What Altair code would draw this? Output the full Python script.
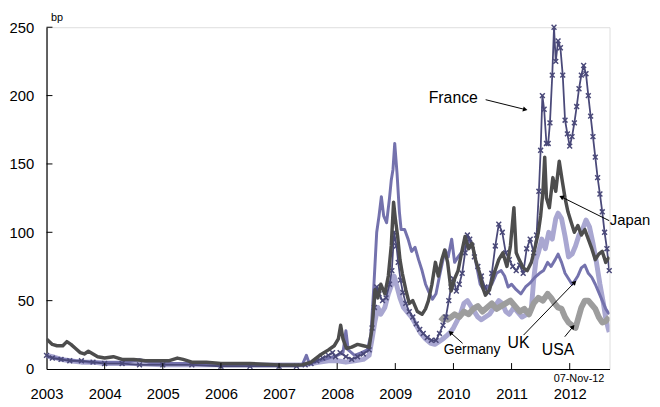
import math
import altair as alt
import pandas as pd

FONT = "Liberation Sans"

# ---------------- data (decimal year on chart axis, bp) ----------------
jp_t = [2003.00, 2003.05, 2003.10, 2003.18, 2003.28, 2003.35, 2003.42, 2003.50, 2003.58, 2003.65,
        2003.72, 2003.80, 2003.88, 2004.00, 2004.15, 2004.30, 2004.50, 2004.70, 2004.90, 2005.10,
        2005.25, 2005.35, 2005.50, 2005.75, 2006.00, 2006.50, 2007.00, 2007.40, 2007.55, 2007.70,
        2007.85, 2007.95, 2008.02, 2008.06, 2008.10, 2008.16, 2008.25, 2008.35, 2008.45, 2008.55,
        2008.60, 2008.65, 2008.70, 2008.75, 2008.82, 2008.88, 2008.93, 2008.97, 2009.00, 2009.04,
        2009.08, 2009.12, 2009.18, 2009.24, 2009.30, 2009.38, 2009.46, 2009.52, 2009.57, 2009.63,
        2009.69, 2009.74, 2009.80, 2009.85, 2009.90, 2009.96, 2010.02, 2010.08, 2010.14, 2010.20,
        2010.26, 2010.32, 2010.38, 2010.45, 2010.50, 2010.55, 2010.62, 2010.70, 2010.78, 2010.85,
        2010.92, 2010.98, 2011.04, 2011.08, 2011.13, 2011.20, 2011.27, 2011.34, 2011.40, 2011.46,
        2011.50, 2011.54, 2011.57, 2011.60, 2011.65, 2011.71, 2011.76, 2011.82, 2011.87, 2011.92,
        2011.97, 2012.02, 2012.08, 2012.14, 2012.20, 2012.26, 2012.32, 2012.38, 2012.44, 2012.50,
        2012.56, 2012.62, 2012.68]
jp_v = [22, 20, 18, 17, 17, 20, 18, 15, 12, 11,
        13, 11, 9, 8, 9, 7, 7, 6, 6, 6,
        8, 7, 5, 5, 4, 4, 3, 3, 5, 10,
        14, 17, 22, 32, 22, 15, 16, 18, 17, 16,
        30, 58, 52, 62, 55, 68, 90, 122, 110, 97,
        80, 70, 58, 48, 50, 42, 40, 44, 50, 62,
        78, 68, 80, 87, 78, 57, 66, 72, 85, 97,
        88, 92, 80, 70, 60, 54, 58, 70, 80, 85,
        75, 90, 118, 85, 80, 74, 72, 78, 88, 100,
        112, 130, 155, 125, 118, 140, 130, 152, 138, 125,
        115, 108, 100, 105, 98, 102, 95, 88, 80, 84,
        86, 78, 82]

fr_t = [2003.00, 2003.10, 2003.25, 2003.40, 2003.60, 2003.80, 2004.00, 2004.30, 2004.60, 2005.00,
        2005.50, 2006.00, 2006.50, 2007.00, 2007.30, 2007.45, 2007.55, 2007.65, 2007.75, 2007.85,
        2007.92, 2007.97, 2008.05, 2008.15, 2008.25, 2008.35, 2008.45, 2008.55, 2008.60, 2008.64,
        2008.68, 2008.72, 2008.78, 2008.84, 2008.90, 2008.94, 2008.98, 2009.02, 2009.05, 2009.09,
        2009.13, 2009.18, 2009.24, 2009.30, 2009.36, 2009.42, 2009.48, 2009.55, 2009.62, 2009.70,
        2009.76, 2009.82, 2009.87, 2009.92, 2009.96, 2010.00, 2010.05, 2010.10, 2010.15, 2010.20,
        2010.24, 2010.28, 2010.32, 2010.36, 2010.42, 2010.48, 2010.54, 2010.60, 2010.66, 2010.72,
        2010.78, 2010.84, 2010.90, 2010.96, 2011.02, 2011.08, 2011.14, 2011.20, 2011.26, 2011.32,
        2011.38, 2011.43, 2011.47, 2011.50, 2011.53, 2011.56, 2011.60, 2011.63, 2011.66, 2011.70,
        2011.73, 2011.76, 2011.80, 2011.84, 2011.88, 2011.92, 2011.96, 2012.00, 2012.04, 2012.08,
        2012.12, 2012.16, 2012.20, 2012.24, 2012.28, 2012.32, 2012.36, 2012.40, 2012.44, 2012.48,
        2012.52, 2012.56, 2012.60, 2012.64, 2012.68]
fr_v = [10, 8, 7, 6, 6, 5, 4, 4, 3, 3,
        3, 2, 2, 2, 2, 3, 4, 6, 8, 10,
        12, 9, 12, 9, 7, 9, 11, 14, 30, 45,
        60, 55, 50, 52, 62, 72, 100, 90, 78, 65,
        56, 48, 42, 38, 33, 29, 26, 23, 21, 21,
        26, 32, 38, 50, 60, 66, 57, 62, 70, 85,
        98, 95, 90, 82, 75, 68, 60, 56, 70, 90,
        106, 100, 85, 80, 75, 72, 76, 70, 88, 95,
        85, 98, 130, 160, 200, 190, 165, 165, 180, 215,
        250, 225, 240, 235, 215, 182, 172, 163, 170, 180,
        192, 205, 215, 222, 216, 200, 185, 170, 155, 140,
        128, 115, 100, 88, 72]

de_t = [2003.00, 2003.10, 2003.25, 2003.40, 2003.60, 2003.80, 2004.00, 2004.50, 2005.00, 2005.50,
        2006.00, 2006.50, 2007.00, 2007.40, 2007.55, 2007.70, 2007.85, 2008.00, 2008.15, 2008.30,
        2008.45, 2008.55, 2008.60, 2008.65, 2008.70, 2008.75, 2008.82, 2008.88, 2008.94, 2008.98,
        2009.03, 2009.08, 2009.14, 2009.20, 2009.28, 2009.36, 2009.44, 2009.52, 2009.60, 2009.68,
        2009.75, 2009.82, 2009.90, 2009.95, 2010.00, 2010.06, 2010.12, 2010.18, 2010.24, 2010.30,
        2010.36, 2010.42, 2010.48, 2010.55, 2010.62, 2010.70, 2010.78, 2010.84, 2010.90, 2010.96,
        2011.04, 2011.10, 2011.18, 2011.26, 2011.34, 2011.38, 2011.42, 2011.46, 2011.52, 2011.58,
        2011.64, 2011.70, 2011.76, 2011.80, 2011.86, 2011.92, 2011.98, 2012.04, 2012.10, 2012.16,
        2012.22, 2012.28, 2012.34, 2012.40, 2012.46, 2012.52, 2012.58, 2012.62, 2012.66, 2012.68]
de_v = [10, 9, 7, 6, 5, 5, 4, 4, 3, 3,
        3, 3, 3, 3, 4, 5, 6, 6, 5, 6,
        7, 10, 22, 35, 45, 40, 45, 55, 62, 68,
        60, 52, 45, 42, 38, 32, 26, 22, 19, 18,
        20, 22, 25, 27, 30, 35, 40, 48, 50, 46,
        42, 38, 36, 38, 40, 45, 50, 48, 42, 40,
        45, 42, 38, 40, 44, 65, 80, 85, 95, 88,
        100, 95, 110, 114, 110, 97, 82, 84, 90, 98,
        102, 109, 104, 92, 78, 62, 48, 37, 30, 27]

uk_t = [2003.00, 2003.15, 2003.30, 2003.50, 2003.75, 2004.00, 2004.40, 2004.60, 2004.75, 2005.00,
        2005.50, 2006.00, 2006.50, 2007.00, 2007.40, 2007.47, 2007.52, 2007.70, 2007.85, 2008.00,
        2008.10, 2008.15, 2008.19, 2008.30, 2008.42, 2008.52, 2008.58, 2008.63, 2008.68, 2008.72,
        2008.76, 2008.80, 2008.85, 2008.90, 2008.93, 2008.96, 2008.99, 2009.03, 2009.07, 2009.10,
        2009.16, 2009.22, 2009.28, 2009.34, 2009.40, 2009.46, 2009.52, 2009.58, 2009.64, 2009.70,
        2009.76, 2009.82, 2009.86, 2009.91, 2009.97, 2010.02, 2010.08, 2010.15, 2010.22, 2010.28,
        2010.34, 2010.40, 2010.46, 2010.52, 2010.58, 2010.66, 2010.74, 2010.82, 2010.88, 2010.94,
        2011.00, 2011.08, 2011.16, 2011.24, 2011.32, 2011.40, 2011.48, 2011.55, 2011.62, 2011.68,
        2011.75, 2011.80, 2011.86, 2011.92, 2011.98, 2012.04, 2012.08, 2012.14, 2012.20, 2012.26,
        2012.32, 2012.38, 2012.44, 2012.50, 2012.56, 2012.62, 2012.68]
uk_v = [9, 8, 7, 6, 5, 5, 5, 7, 5, 4,
        4, 3, 3, 3, 3, 10, 4, 6, 8, 10,
        12, 28, 14, 10, 12, 14, 25, 60, 100, 112,
        126, 112, 107, 125, 138, 146, 165, 143, 115, 102,
        102, 95, 86, 89, 80, 72, 62, 56, 51, 55,
        68, 80, 87, 82, 95, 78, 82, 86, 90, 95,
        88, 75, 62, 58, 60, 62, 70, 72, 68, 60,
        62, 58, 55, 60, 63, 67, 70, 72, 78, 75,
        80, 84, 78, 70, 66, 62, 64, 68, 74, 76,
        70, 67, 62, 56, 50, 44, 40]

us_t = [2009.78, 2009.84, 2009.90, 2009.96, 2010.02, 2010.10, 2010.18, 2010.26, 2010.34, 2010.42,
        2010.50, 2010.58, 2010.66, 2010.74, 2010.82, 2010.90, 2010.98, 2011.06, 2011.14, 2011.22,
        2011.30, 2011.38, 2011.46, 2011.54, 2011.62, 2011.68, 2011.74, 2011.80, 2011.86, 2011.92,
        2011.98, 2012.04, 2012.10, 2012.14, 2012.20, 2012.26, 2012.32, 2012.38, 2012.44, 2012.50,
        2012.56, 2012.62, 2012.68]
us_v = [35, 38, 36, 38, 40, 38, 42, 40, 44, 46,
        42, 45, 48, 44, 46, 48, 50, 46, 42, 44,
        40, 48, 52, 50, 55, 52, 48, 45, 44, 38,
        34, 32, 30, 36, 45, 50, 50, 47, 44, 38,
        34, 35, 38]

year_ticks = [2003, 2004, 2005, 2006, 2007, 2008, 2009, 2010, 2011, 2012]
y_ticks = [0, 50, 100, 150, 200, 250]

# annotations: label, text position (t, v), arrow from (t, v) to (t, v)
ann_labels = ["France", "Japan", "Germany", "UK", "USA"]
ann_tx = [2010.42, 2012.69, 2010.32, 2011.12, 2011.80]
ann_tv = [198, 109, 14, 19, 13.5]
ann_align = ["right", "left", "center", "center", "center"]
ann_size = [16, 15, 14, 16, 16]
arr_t1 = [2010.554, 2012.68, 2010.157, 2011.206, 2011.915]
arr_v1 = [197, 108.5, 18.8, 24.8, 23.6]
arr_t2 = [2011.235, 2011.857, 2009.947, 2012.085, 2012.056]
arr_v2 = [189.8, 125.9, 26.7, 63.4, 30.9]

# ---------------- chart ----------------
W, H = 570, 346
X0, X1 = 2003, 2012.685
Y0, Y1 = 0, 250

xs = alt.Scale(domain=[X0, X1], nice=False, zero=False)
ys = alt.Scale(domain=[Y0, Y1], nice=False, zero=True)

x_axis = alt.Axis(values=year_ticks, format="d", ticks=False, grid=False, title=None,
                  labelFont=FONT, labelFontSize=15, labelColor="black", labelPadding=18,
                  labelFlush=False, labelOverlap=False, domainColor="black", domainWidth=1.2)
y_axis = alt.Axis(values=y_ticks, ticks=False, grid=False, title=None,
                  labelFont=FONT, labelFontSize=15, labelColor="black", labelPadding=13,
                  labelFlush=False, labelOverlap=False, domainColor="black", domainWidth=1.2)

X = alt.X("t:Q", scale=xs, axis=x_axis)
Y = alt.Y("v:Q", scale=ys, axis=y_axis)


def frame(t, v):
    return pd.DataFrame({"t": t, "v": v})


def line(t, v, color, width):
    return alt.Chart(frame(t, v)).mark_line(color=color, strokeWidth=width, strokeJoin="round",
                                            clip=True).encode(x=X, y=Y)


de_line = line(de_t, de_v, "#a9a7d1", 5)
us_line = line(us_t, us_v, "#9d9d9d", 6)
uk_line = line(uk_t, uk_v, "#7472ad", 3)
fr_line = line(fr_t, fr_v, "#4a4979", 1.8)
fr_pts = alt.Chart(frame(fr_t, fr_v)).mark_point(
    shape="M-1,-1L1,1M-1,1L1,-1", size=24, filled=False, color="#4a4979", strokeWidth=1.5,
    opacity=1).encode(x=X, y=Y)
jp_line = line(jp_t, jp_v, "#4d4d4d", 3.5)

xt = alt.Chart(pd.DataFrame({"t": year_ticks[1:], "v": [0] * (len(year_ticks) - 1)})).mark_rule(
    color="black", strokeWidth=1).encode(x=X, y=alt.value(H), y2=alt.value(H - 6))
yt = alt.Chart(pd.DataFrame({"t": [X0] * (len(y_ticks) - 1), "v": y_ticks[1:]})).mark_rule(
    color="black", strokeWidth=1).encode(y=Y, x=alt.value(0), x2=alt.value(6))

# annotation text
ann_layers = []
for lab, tx, tv, al, fs in zip(ann_labels, ann_tx, ann_tv, ann_align, ann_size):
    ann_layers.append(
        alt.Chart(pd.DataFrame({"t": [tx], "v": [tv], "label": [lab]})).mark_text(
            font=FONT, fontSize=fs, color="black", align=al, baseline="middle").encode(
            x=X, y=Y, text="label:N"))

# arrows
px_per_t = W / (X1 - X0)
px_per_v = H / (Y1 - Y0)
angles = []
for t1, v1, t2, v2 in zip(arr_t1, arr_v1, arr_t2, arr_v2):
    dx = (t2 - t1) * px_per_t
    dy = -(v2 - v1) * px_per_v
    angles.append(math.degrees(math.atan2(dx, -dy)) % 360)

arr_df = pd.DataFrame({"t": arr_t1, "v": arr_v1, "t2": arr_t2, "v2": arr_v2})
arr_lines = alt.Chart(arr_df).mark_rule(color="black", strokeWidth=1).encode(
    x=X, y=Y, x2="t2:Q", y2="v2:Q")
head_df = pd.DataFrame({"t": arr_t2, "v": arr_v2, "ang": angles})
arr_heads = alt.Chart(head_df).mark_point(shape="triangle-up", filled=True, color="black",
                                          size=28, opacity=1).encode(
    x=X, y=Y, angle=alt.Angle("ang:Q", scale=None))

date_lbl = alt.Chart(pd.DataFrame({"t": [2012.16], "v": [0], "label": ["07-Nov-12"]})).mark_text(
    font=FONT, fontSize=11, color="black", align="center", baseline="middle").encode(
    x=X, y=alt.value(H + 10), text="label:N")
bp_lbl = alt.Chart(pd.DataFrame({"t": [2003.18], "v": [0], "label": ["bp"]})).mark_text(
    font=FONT, fontSize=11, color="black", align="center", baseline="middle").encode(
    x=X, y=alt.value(-9), text="label:N")

chart = alt.layer(
    de_line, us_line, uk_line, fr_line, fr_pts, jp_line, xt, yt,
    arr_lines, arr_heads, *ann_layers, date_lbl, bp_lbl
).properties(
    width=W, height=H,
    autosize=alt.AutoSizeParams(type="none"),
    padding={"left": 39, "top": 17, "right": 43, "bottom": 36},
).configure_view(
    stroke="#a0a0a0", strokeWidth=1.5
).configure(background="white")

chart.save("out.html", embed_options={"renderer": "svg", "actions": False})
